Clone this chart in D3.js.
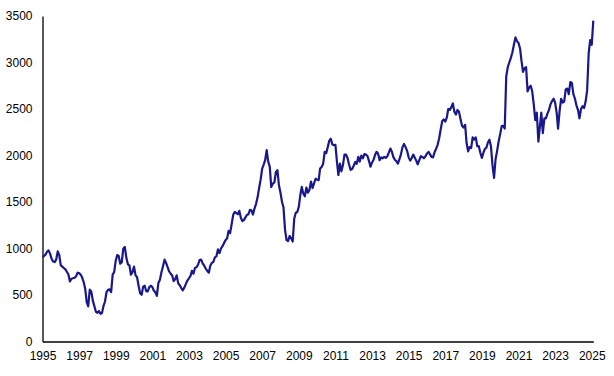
<!DOCTYPE html>
<html>
<head>
<meta charset="utf-8">
<script src="https://cdn.jsdelivr.net/npm/d3@7"></script>
<style>
  html, body { margin: 0; padding: 0; background: #fff; }
  svg { display: block; }
</style>
</head>
<body>
<div id="root"></div>
<script>
const width = 614;
const height = 376;

// monthly values, Jan 1995 onwards, one array per 5 years
const values1995 = [
  908, 920, 934, 965, 980, 945, 890, 860, 854, 880, 969, 930,
  818, 805, 790, 775, 750, 720, 646, 675, 680, 685, 700, 740,
  735, 718, 690, 640, 570, 423, 377, 557, 535, 440, 380, 320,
  309, 327, 298, 305, 380, 430, 530, 555, 560, 531, 720, 746,
  870, 930, 920, 836, 850, 1000, 1016, 900, 830, 818, 718, 746
];
const values2000 = [
  805, 711, 693, 600, 520, 503, 590, 600, 540, 540, 585, 600,
  585, 545, 531, 490, 630, 665, 745, 810, 880, 845, 800, 755,
  728, 710, 650, 670, 711, 625, 605, 575, 550, 580, 620, 655,
  680, 705, 760, 730, 790, 800, 825, 875, 880, 840, 815, 785,
  760, 740, 815, 845, 855, 905, 915, 990, 950, 1000, 1025, 1060
];
const values2005 = [
  1090, 1110, 1190, 1165, 1260, 1360, 1393, 1382, 1368, 1405, 1330, 1295,
  1305, 1335, 1360, 1368, 1415, 1411, 1365, 1430, 1480, 1550, 1650, 1740,
  1860, 1905, 1950, 2057, 1935, 1880, 1660, 1698, 1710, 1820, 1842, 1680,
  1600, 1500, 1440, 1200, 1090, 1080, 1135, 1110, 1075, 1320, 1385, 1393,
  1450, 1580, 1662, 1590, 1562, 1655, 1600, 1630, 1720, 1650, 1700, 1750
];
const values2010 = [
  1740, 1734, 1860, 1877, 1910, 2040, 2025, 2090, 2160, 2180, 2120, 2111,
  2115, 1930, 1790, 1913, 1830, 1900, 2010, 2010, 1970, 1900, 1845, 1855,
  1890, 1930, 1910, 1985, 1935, 2000, 1970, 2015, 2010, 1995, 1940, 1880,
  1925, 1955, 2005, 2040, 2020, 1950, 1980, 1970, 1985, 1975, 1990, 2030,
  2075, 2040, 1985, 1955, 1940, 1913, 1960, 2015, 2090, 2125, 2090, 2050
];
const values2015 = [
  1980, 1945, 1970, 2010, 1980, 1945, 1906, 1950, 1992, 1985, 1970, 1990,
  2020, 2039, 2015, 1985, 1980, 2035, 2070, 2115, 2185, 2280, 2370, 2387,
  2365, 2410, 2500, 2490, 2520, 2560, 2470, 2440, 2490, 2470, 2390, 2320,
  2300, 2330, 2140, 2045, 2090, 2080, 2195, 2170, 2195, 2100, 2100, 2030,
  1975, 2030, 2070, 2085, 2140, 2170, 2100, 1895, 1760, 1960, 2050, 2150
];
const values2020 = [
  2230, 2316, 2320, 2290, 2850, 2950, 3000, 3050, 3110, 3190, 3270, 3230,
  3210, 3150, 3020, 2900, 2940, 2950, 2690, 2730, 2750, 2690, 2550, 2380,
  2460, 2150, 2300, 2460, 2240, 2400, 2400, 2450, 2490, 2550, 2585, 2610,
  2570, 2460, 2290, 2480, 2610, 2570, 2580, 2710, 2720, 2660, 2790, 2780,
  2660, 2610, 2540, 2490, 2400, 2500, 2530, 2510, 2580, 2700, 3100, 3240,
  3190, 3450
];

const yearTicks = [1995, 1997, 1999, 2001, 2003, 2005, 2007, 2009, 2011, 2013, 2015, 2017, 2019, 2021, 2023, 2025];
const valueTicks = [0, 500, 1000, 1500, 2000, 2500, 3000, 3500];

const allValues = [].concat(values1995, values2000, values2005, values2010, values2015, values2020);
const data = allValues.map((v, i) => ({ date: new Date(1995, i, 1), value: v }));

const svg = d3.select("#root").append("svg")
  .attr("width", width)
  .attr("height", height);

const x = d3.scaleTime()
  .domain([new Date(1995, 0, 1), data[data.length - 1].date])
  .range([42.5, 593.3]);

const y = d3.scaleLinear()
  .domain([0, 3500])
  .range([341.5, 16]);

svg.append("g")
  .attr("transform", "translate(0," + y(0) + ")")
  .call(d3.axisBottom(x)
    .tickValues(yearTicks.map(yr => new Date(yr, 0, 1)))
    .tickFormat(d3.timeFormat("%Y"))
    .tickSize(0)
    .tickPadding(10));

svg.append("g")
  .attr("transform", "translate(" + x(new Date(1995, 0, 1)) + ",0)")
  .call(d3.axisLeft(y)
    .tickValues(valueTicks)
    .tickFormat(d3.format("d"))
    .tickSize(0)
    .tickPadding(10));

svg.selectAll(".domain")
  .attr("stroke", "#000")
  .attr("stroke-width", 1.3);

svg.selectAll(".tick text")
  .attr("font-family", "'Liberation Sans', Arial, sans-serif")
  .attr("font-size", "12px")
  .attr("fill", "#000");

const line = d3.line()
  .x(d => x(d.date))
  .y(d => y(d.value));

svg.append("path")
  .datum(data)
  .attr("fill", "none")
  .attr("stroke", "#18188c")
  .attr("stroke-width", 2.2)
  .attr("stroke-linejoin", "round")
  .attr("d", line);
</script>
</body>
</html>
